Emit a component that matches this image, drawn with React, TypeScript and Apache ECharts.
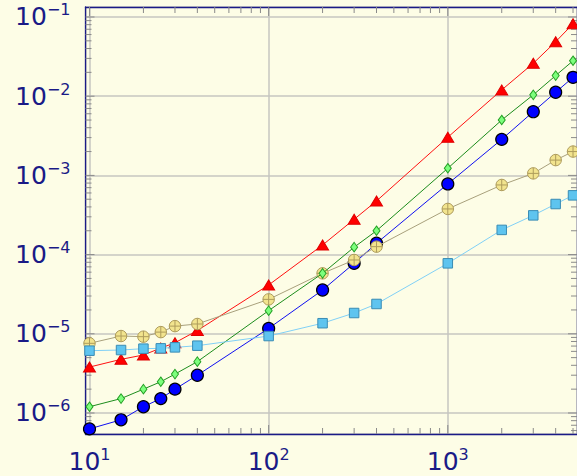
import React, { useEffect, useRef } from 'react';
import * as echarts from 'echarts';

// ---- data ----
const xValues = [10, 15, 20, 25, 30, 40, 100, 200, 300, 400, 1000, 2000, 3000, 4000, 5000];
const blueCircles = [6.3e-7, 8.2e-7, 1.2e-6, 1.52e-6, 2.0e-6, 3.0e-6, 1.17e-5, 3.57e-5, 7.76e-5, 1.39e-4, 7.8e-4, 2.85e-3, 6.37e-3, 1.12e-2, 1.73e-2];
const redTriangles = [3.8e-6, 4.76e-6, 5.4e-6, 6.6e-6, 7.7e-6, 1.1e-5, 4.13e-5, 1.32e-4, 2.79e-4, 4.75e-4, 3.03e-3, 1.2e-2, 2.6e-2, 4.87e-2, 8.2e-2];
const greenDiamonds = [1.2e-6, 1.52e-6, 2.0e-6, 2.48e-6, 3.1e-6, 4.45e-6, 1.96e-5, 5.8e-5, 1.24e-4, 2.0e-4, 1.23e-3, 5.0e-3, 1.04e-2, 1.82e-2, 2.8e-2];
const tanOplus = [7.58e-6, 9.37e-6, 9.2e-6, 1.05e-5, 1.25e-5, 1.33e-5, 2.72e-5, 5.8e-5, 8.55e-5, 1.26e-4, 3.77e-4, 7.57e-4, 1.06e-3, 1.56e-3, 2.0e-3];
const blueSquares = [6.12e-6, 6.24e-6, 6.49e-6, 6.55e-6, 6.74e-6, 7.08e-6, 9.37e-6, 1.36e-5, 1.83e-5, 2.38e-5, 7.76e-5, 2.05e-4, 3.13e-4, 4.35e-4, 5.6e-4];

// axis ranges and tick positions
const X_MIN = 9.5;
const X_MAX = 5262;
const Y_MIN = 5.43e-7;
const Y_MAX = 0.1337;
const xMajorTicks = [10, 100, 1000];
const yMajorTicks = [1e-6, 1e-5, 1e-4, 1e-3, 1e-2, 1e-1];

const BG = '#fdfde6';
const NAVY = '#1a1a86';
const TICK = '#8a8a8a';
const GRID = '#c6c6c0';

function minorTicks(lo: number, hi: number): number[] {
  const out: number[] = [];
  for (let e = Math.floor(Math.log10(lo)); e <= Math.ceil(Math.log10(hi)); e++) {
    for (let m = 2; m <= 9; m++) {
      const v = m * Math.pow(10, e);
      if (v > lo && v < hi) out.push(v);
    }
  }
  return out;
}

const OPLUS = 'path://M0,-10A10,10 0 1,1 0,10A10,10 0 1,1 0,-10ZM-10,0L10,0M0,-10L0,10';

function pairs(ys: number[]): number[][] {
  return xValues.map((x, i) => [x, ys[i]]);
}

function labelFmt(v: number): string {
  const l = Math.log10(v);
  const e = Math.round(l);
  if (Math.abs(l - e) > 1e-6) return '';
  return `{a|10}{b|${e < 0 ? '\u2212' + -e : e}}`;
}

const rich = {
  a: { fontSize: 25, lineHeight: 30, color: NAVY, fontFamily: 'DejaVu Sans' },
  b: { fontSize: 16, lineHeight: 18, color: NAVY, fontFamily: 'DejaVu Sans', verticalAlign: 'top' },
};

export default function App() {
  const ref = useRef<HTMLDivElement>(null);
  useEffect(() => {
    document.body.style.margin = '0';
    document.body.style.background = BG;
    const chart = echarts.init(ref.current!, undefined, { renderer: 'svg' });
    const xTickData = [
      ...xMajorTicks.map((v) => [v, Y_MIN, 9]),
      ...minorTicks(X_MIN, X_MAX).map((v) => [v, Y_MIN, 6]),
    ];
    const yTickData = [
      ...yMajorTicks.map((v) => [X_MIN, v, 9]),
      ...minorTicks(Y_MIN, Y_MAX).map((v) => [X_MIN, v, 6]),
    ];
    const baseX = { type: 'log', min: X_MIN, max: X_MAX, logBase: 10 };
    const baseY = { type: 'log', min: Y_MIN, max: Y_MAX, logBase: 10 };
    const lineSeries = (data: number[], z: number, lineColor: string, symbol: string, size: any, fill: string, border: string, bw: number) => ({
      type: 'line',
      data: pairs(data),
      z,
      symbol,
      symbolSize: size,
      showAllSymbol: true,
      lineStyle: { color: lineColor, width: 1 },
      itemStyle: { color: fill, borderColor: border, borderWidth: bw },
      emphasis: { disabled: true },
    });
    chart.setOption({
      animation: false,
      backgroundColor: BG,
      grid: { left: 85.5, top: 7, width: 492.5, height: 427, containLabel: false },
      xAxis: [
        {
          ...baseX,
          position: 'bottom',
          axisLine: { show: true, lineStyle: { color: NAVY, width: 1.3 } },
          axisTick: { show: false },
          minorTick: { show: false },
          splitLine: { show: true, lineStyle: { color: GRID, width: 1.5 } },
          axisLabel: { show: true, formatter: labelFmt, rich, margin: 12, showMinLabel: false, showMaxLabel: false },
        },
        {
          ...baseX,
          position: 'top',
          axisLine: { show: true, lineStyle: { color: NAVY, width: 1.3 } },
          axisTick: { show: false },
          splitLine: { show: false },
          axisLabel: { show: false },
        },
      ],
      yAxis: [
        {
          ...baseY,
          position: 'left',
          axisLine: { show: true, lineStyle: { color: NAVY, width: 1.3 } },
          axisTick: { show: false },
          minorTick: { show: false },
          splitLine: { show: true, lineStyle: { color: GRID, width: 1.5 } },
          axisLabel: { show: true, formatter: labelFmt, rich, margin: 15, showMinLabel: false, showMaxLabel: false },
        },
        {
          ...baseY,
          position: 'right',
          axisLine: { show: true, lineStyle: { color: NAVY, width: 1.3 } },
          axisTick: { show: false },
          splitLine: { show: false },
          axisLabel: { show: false },
        },
      ],
      series: [
        {
          type: 'custom',
          z: 1,
          silent: true,
          data: xTickData,
          renderItem: (params: any, api: any) => {
            const p = api.coord([api.value(0), api.value(1)]);
            const cs = params.coordSys;
            const len = api.value(2);
            const st = { stroke: TICK, lineWidth: 1 };
            return {
              type: 'group',
              children: [
                { type: 'line', shape: { x1: p[0], y1: cs.y + cs.height, x2: p[0], y2: cs.y + cs.height - len }, style: st },
                { type: 'line', shape: { x1: p[0], y1: cs.y, x2: p[0], y2: cs.y + len }, style: st },
              ],
            };
          },
        },
        {
          type: 'custom',
          z: 1,
          silent: true,
          data: yTickData,
          renderItem: (params: any, api: any) => {
            const p = api.coord([api.value(0), api.value(1)]);
            const cs = params.coordSys;
            const len = api.value(2);
            const st = { stroke: TICK, lineWidth: 1 };
            return {
              type: 'group',
              children: [
                { type: 'line', shape: { x1: cs.x, y1: p[1], x2: cs.x + len, y2: p[1] }, style: st },
                { type: 'line', shape: { x1: cs.x + cs.width, y1: p[1], x2: cs.x + cs.width - len, y2: p[1] }, style: st },
              ],
            };
          },
        },
        lineSeries(blueCircles, 2, '#1010f0', 'circle', 12, '#0000ff', '#000000', 1.2),
        lineSeries(redTriangles, 3, '#ff1010', 'triangle', [12, 10], '#ff0000', '#e00000', 1),
        lineSeries(tanOplus, 4, '#a8a07c', OPLUS, 11.5, '#f2e48e', '#ae9c5c', 1),
        lineSeries(greenDiamonds, 5, '#1c8c1c', 'diamond', [7, 9.5], '#7dff7d', '#24a024', 1),
        lineSeries(blueSquares, 6, '#80d0f6', 'rect', 9.5, '#5ec4ef', '#3a8cb4', 1),
      ],
    });
    return () => chart.dispose();
  }, []);
  return <div ref={ref} style={{ position: 'fixed', left: 0, top: 0, width: 577, height: 476 }} />;
}
